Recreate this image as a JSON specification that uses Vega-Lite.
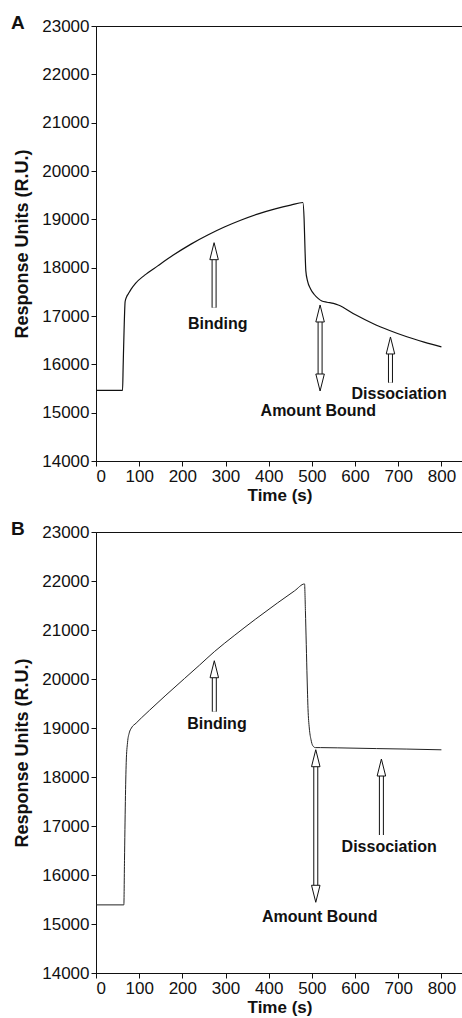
{
  "$schema": "https://vega.github.io/schema/vega-lite/v6.json",
  "padding": {"left": 10, "top": 13, "right": 0, "bottom": 0},
  "spacing": 15,
  "config": {
    "font": "Liberation Sans",
    "view": {"stroke": "#111", "strokeWidth": 1},
    "axis": {"grid": false, "domainColor": "#111", "tickColor": "#111", "labelColor": "#111", "titleColor": "#111", "labelFontSize": 17, "titleFontSize": 17, "titleFontWeight": "bold", "labelFont": "Liberation Sans", "titleFont": "Liberation Sans", "tickSize": 5, "labelPadding": 2},
    "axisY": {"titleFontSize": 18, "titlePadding": 10}
  },
  "datasets": {
    "curveA": [
      {"t": 0, "v": 15460}, {"t": 61.5, "v": 15460}, {"t": 63, "v": 16000}, {"t": 65, "v": 16700}, {"t": 67.5, "v": 17300}, {"t": 71, "v": 17400}, {"t": 75, "v": 17460}, {"t": 81, "v": 17550}, {"t": 92, "v": 17680}, {"t": 112, "v": 17840}, {"t": 143, "v": 18037}, {"t": 180, "v": 18265}, {"t": 220, "v": 18487}, {"t": 260, "v": 18680}, {"t": 296, "v": 18835}, {"t": 335, "v": 18980}, {"t": 374, "v": 19107}, {"t": 415, "v": 19215}, {"t": 451, "v": 19295}, {"t": 479, "v": 19348}, {"t": 482, "v": 19000}, {"t": 484, "v": 18400}, {"t": 486, "v": 17934}, {"t": 490, "v": 17720}, {"t": 497, "v": 17560}, {"t": 505, "v": 17450}, {"t": 515, "v": 17360}, {"t": 523, "v": 17310}, {"t": 535, "v": 17285}, {"t": 550, "v": 17260}, {"t": 561, "v": 17228}, {"t": 600, "v": 17030}, {"t": 640, "v": 16850}, {"t": 680, "v": 16700}, {"t": 720, "v": 16570}, {"t": 760, "v": 16460}, {"t": 800, "v": 16360}
    ],
    "curveB": [
      {"t": 0, "v": 15390}, {"t": 64.5, "v": 15390}, {"t": 66, "v": 16300}, {"t": 68, "v": 17500}, {"t": 70, "v": 18300}, {"t": 73, "v": 18700}, {"t": 77, "v": 18900}, {"t": 82, "v": 19000}, {"t": 93, "v": 19100}, {"t": 105, "v": 19205}, {"t": 124, "v": 19362}, {"t": 160, "v": 19655}, {"t": 205, "v": 20010}, {"t": 240, "v": 20285}, {"t": 274, "v": 20557}, {"t": 320, "v": 20885}, {"t": 370, "v": 21225}, {"t": 420, "v": 21550}, {"t": 460, "v": 21800}, {"t": 483, "v": 21940}, {"t": 485, "v": 21400}, {"t": 487, "v": 20700}, {"t": 489, "v": 20000}, {"t": 491, "v": 19400}, {"t": 494, "v": 19000}, {"t": 498, "v": 18760}, {"t": 502, "v": 18640}, {"t": 508, "v": 18600}, {"t": 520, "v": 18600}, {"t": 560, "v": 18595}, {"t": 650, "v": 18580}, {"t": 720, "v": 18570}, {"t": 800, "v": 18555}
    ],
    "shaftsA": [
      {"t": 273.5, "v": 17172, "v2": 18165},
      {"t": 519, "v": 15800, "v2": 16876},
      {"t": 682, "v": 15620, "v2": 16214}
    ],
    "headsA": [
      {"t": 273.5, "v": 18517, "dir": "up"},
      {"t": 519, "v": 17228, "dir": "up"},
      {"t": 519, "v": 15448, "dir": "down"},
      {"t": 682, "v": 16566, "dir": "up"}
    ],
    "labelsA": [
      {"t": 282, "v": 16841, "label": "Binding"},
      {"t": 515, "v": 15035, "label": "Amount Bound"},
      {"t": 702, "v": 15380, "label": "Dissociation"}
    ],
    "shaftsB": [
      {"t": 274, "v": 19333, "v2": 20026},
      {"t": 509, "v": 15790, "v2": 18210},
      {"t": 661, "v": 16816, "v2": 18020}
    ],
    "headsB": [
      {"t": 274, "v": 20373, "dir": "up"},
      {"t": 509, "v": 18557, "dir": "up"},
      {"t": 509, "v": 15443, "dir": "down"},
      {"t": 661, "v": 18367, "dir": "up"}
    ],
    "labelsB": [
      {"t": 280, "v": 19082, "label": "Binding"},
      {"t": 518, "v": 15137, "label": "Amount Bound"},
      {"t": 679, "v": 16565, "label": "Dissociation"}
    ]
  },
  "vconcat": [
    {
      "title": {"text": "A", "anchor": "start", "frame": "group", "fontSize": 19, "fontWeight": "bold", "baseline": "alphabetic", "offset": -19, "dx": -85, "dy": 12, "color": "#111", "font": "Liberation Sans"},
      "width": 367,
      "height": 435,
      "encoding": {
        "x": {"field": "t", "type": "quantitative", "scale": {"domain": [0, 850], "nice": false, "zero": false}, "axis": {"values": [0, 100, 200, 300, 400, 500, 600, 700, 800], "title": "Time (s)", "titlePadding": 3}},
        "y": {"field": "v", "type": "quantitative", "scale": {"domain": [14000, 23000], "nice": false, "zero": false}, "axis": {"values": [14000, 15000, 16000, 17000, 18000, 19000, 20000, 21000, 22000, 23000], "format": "d", "title": "Response Units (R.U.)"}}
      },
      "layer": [
        {"data": {"name": "curveA"}, "mark": {"type": "line", "color": "#111", "strokeWidth": 1.2, "interpolate": "monotone"}},
        {"data": {"name": "shaftsA"}, "mark": {"type": "rule", "color": "#111", "strokeWidth": 5}, "encoding": {"y2": {"field": "v2"}}},
        {"data": {"name": "shaftsA"}, "mark": {"type": "rule", "color": "white", "strokeWidth": 3}, "encoding": {"y2": {"field": "v2"}}},
        {"data": {"name": "headsA"}, "mark": {"type": "point", "filled": true, "fill": "white", "stroke": "#111", "strokeWidth": 1, "size": 289, "opacity": 1}, "encoding": {"shape": {"field": "dir", "type": "nominal", "scale": {"domain": ["up", "down"], "range": ["M0,0L0.5,2L-0.5,2Z", "M0,0L0.5,-2L-0.5,-2Z"]}, "legend": null}}},
        {"data": {"name": "labelsA"}, "mark": {"type": "text", "fontSize": 16, "fontWeight": "bold", "color": "#111", "align": "center", "baseline": "middle", "font": "Liberation Sans"}, "encoding": {"text": {"field": "label"}}}
      ]
    },
    {
      "title": {"text": "B", "anchor": "start", "frame": "group", "fontSize": 19, "fontWeight": "bold", "baseline": "alphabetic", "offset": -19, "dx": -85, "dy": 12, "color": "#111", "font": "Liberation Sans"},
      "width": 367,
      "height": 441,
      "encoding": {
        "x": {"field": "t", "type": "quantitative", "scale": {"domain": [0, 850], "nice": false, "zero": false}, "axis": {"values": [0, 100, 200, 300, 400, 500, 600, 700, 800], "title": "Time (s)", "titlePadding": 3}},
        "y": {"field": "v", "type": "quantitative", "scale": {"domain": [14000, 23000], "nice": false, "zero": false}, "axis": {"values": [14000, 15000, 16000, 17000, 18000, 19000, 20000, 21000, 22000, 23000], "format": "d", "title": "Response Units (R.U.)"}}
      },
      "layer": [
        {"data": {"name": "curveB"}, "mark": {"type": "line", "color": "#222", "strokeWidth": 1, "interpolate": "monotone"}},
        {"data": {"name": "shaftsB"}, "mark": {"type": "rule", "color": "#111", "strokeWidth": 5}, "encoding": {"y2": {"field": "v2"}}},
        {"data": {"name": "shaftsB"}, "mark": {"type": "rule", "color": "white", "strokeWidth": 3}, "encoding": {"y2": {"field": "v2"}}},
        {"data": {"name": "headsB"}, "mark": {"type": "point", "filled": true, "fill": "white", "stroke": "#111", "strokeWidth": 1, "size": 289, "opacity": 1}, "encoding": {"shape": {"field": "dir", "type": "nominal", "scale": {"domain": ["up", "down"], "range": ["M0,0L0.5,2L-0.5,2Z", "M0,0L0.5,-2L-0.5,-2Z"]}, "legend": null}}},
        {"data": {"name": "labelsB"}, "mark": {"type": "text", "fontSize": 16, "fontWeight": "bold", "color": "#111", "align": "center", "baseline": "middle", "font": "Liberation Sans"}, "encoding": {"text": {"field": "label"}}}
      ]
    }
  ]
}
